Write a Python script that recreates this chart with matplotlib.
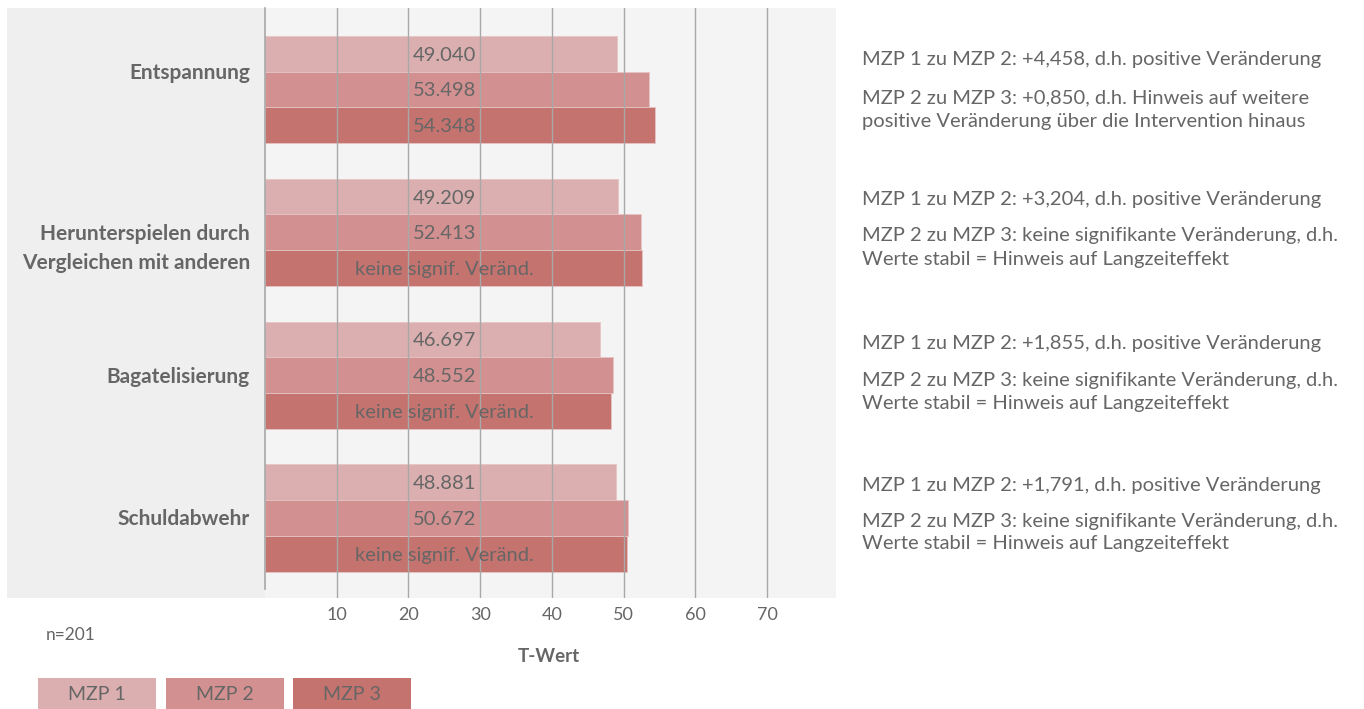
import matplotlib
matplotlib.use("Agg")
import matplotlib.pyplot as plt
from matplotlib.patches import Rectangle
import numpy as np

categories = ["Entspannung", "Herunterspielen durch\nVergleichen mit anderen", "Bagatelisierung", "Schuldabwehr"]
series_names = ["MZP 1", "MZP 2", "MZP 3"]
mzp1 = [49.040, 49.209, 46.697, 48.881]
mzp2 = [53.498, 52.413, 48.552, 50.672]
mzp3 = [54.348, 52.5, 48.3, 50.4]
labels1 = ["49.040", "49.209", "46.697", "48.881"]
labels2 = ["53.498", "52.413", "48.552", "50.672"]
labels3 = ["54.348", "keine signif. Veränd.", "keine signif. Veränd.", "keine signif. Veränd."]
xticks = [10, 20, 30, 40, 50, 60, 70]
notes = [
    ["MZP 1 zu MZP 2: +4,458, d.h. positive Veränderung",
     "MZP 2 zu MZP 3: +0,850, d.h. Hinweis auf weitere",
     "positive Veränderung über die Intervention hinaus"],
    ["MZP 1 zu MZP 2: +3,204, d.h. positive Veränderung",
     "MZP 2 zu MZP 3: keine signifikante Veränderung, d.h.",
     "Werte stabil = Hinweis auf Langzeiteffekt"],
    ["MZP 1 zu MZP 2: +1,855, d.h. positive Veränderung",
     "MZP 2 zu MZP 3: keine signifikante Veränderung, d.h.",
     "Werte stabil = Hinweis auf Langzeiteffekt"],
    ["MZP 1 zu MZP 2: +1,791, d.h. positive Veränderung",
     "MZP 2 zu MZP 3: keine signifikante Veränderung, d.h.",
     "Werte stabil = Hinweis auf Langzeiteffekt"],
]

colors = ["#dbafaf", "#d29190", "#c5736e"]
txt = "#666666"
plt.rcParams['font.family'] = ['Lato', 'DejaVu Sans']

W, H = 1364, 709
fig = plt.figure(figsize=(W / 100, H / 100), dpi=100)

def fx(px):
    return px / W

def fy(py):
    return 1 - py / H

# left grey panel (behind axes)
fig.patches.append(Rectangle((fx(7), fy(598)), fx(265) - fx(7), fy(8) - fy(598),
                             transform=fig.transFigure, facecolor="#efefef", edgecolor="none", zorder=-5))

ax = fig.add_axes([fx(265), fy(598), fx(836) - fx(265), fy(8) - fy(598)])
ax.set_facecolor("#f4f4f4")
ax.set_xlim(0, 79.6)
ax.set_ylim(3.56, -0.57)

y = np.arange(len(categories))
h = 0.25
for i, (vals, labs) in enumerate(zip([mzp1, mzp2, mzp3], [labels1, labels2, labels3])):
    pos = y - h + i * h
    ax.barh(pos, vals, height=h, color=colors[i], edgecolor="#e6c4c4", linewidth=0.6, zorder=2)
    for p, lab in zip(pos, labs):
        ax.text(25, p + 0.01, lab, ha="center", va="center", fontsize=14.5, color=txt, zorder=4)

for xv in xticks:
    ax.axvline(xv, color="#a8a8a8", linewidth=1, zorder=3)
ax.plot([0, 0], [3.5, -0.57], color="#a8a8a8", linewidth=1.2, zorder=3, clip_on=False)

for s in ax.spines.values():
    s.set_visible(False)
ax.set_yticks([])
ax.set_xticks([])

# x tick labels
for xv in xticks:
    xp = ax.transData.transform((xv, 0))[0]
    fig.text(xp / W, fy(615), str(xv), ha="center", va="center", fontsize=13, color=txt)
fig.text(fx(549), fy(657), "T-Wert", ha="center", va="center", fontsize=13.5, fontweight="bold", color=txt)
fig.text(fx(46), fy(635), "n=201", ha="left", va="center", fontsize=12.5, color=txt)

# category labels (pixel offsets from group centre, as placed in the reference)
label_offsets = [-16, 16, 2, 1]
for yi, c, dy in zip(y, categories, label_offsets):
    lines = c.split("\n")
    yc = H - ax.transData.transform((0, yi))[1] + dy
    n = len(lines)
    for k, line in enumerate(lines):
        off = (k - (n - 1) / 2) * 29
        fig.text(fx(250), fy(yc + off), line, ha="right", va="center", fontsize=15,
                 fontweight="bold", color=txt)

# right notes
note_y = [(60, 98, 122), (199, 236, 259), (344, 380, 403), (486, 521, 544)]
for ys, lines in zip(note_y, notes):
    for yy, line in zip(ys, lines):
        fig.text(fx(862), fy(yy), line, ha="left", va="center", fontsize=14.5, color=txt)

# legend boxes
leg_x = [38, 166, 293]
for lx, name, col in zip(leg_x, series_names, colors):
    fig.patches.append(Rectangle((fx(lx), fy(709)), fx(118), fy(678) - fy(709),
                                 transform=fig.transFigure, facecolor=col, edgecolor="none"))
    fig.text(fx(lx + 59), fy(694), name, ha="center", va="center", fontsize=14, color=txt)

fig.savefig("out.png", dpi=100, facecolor="white")
